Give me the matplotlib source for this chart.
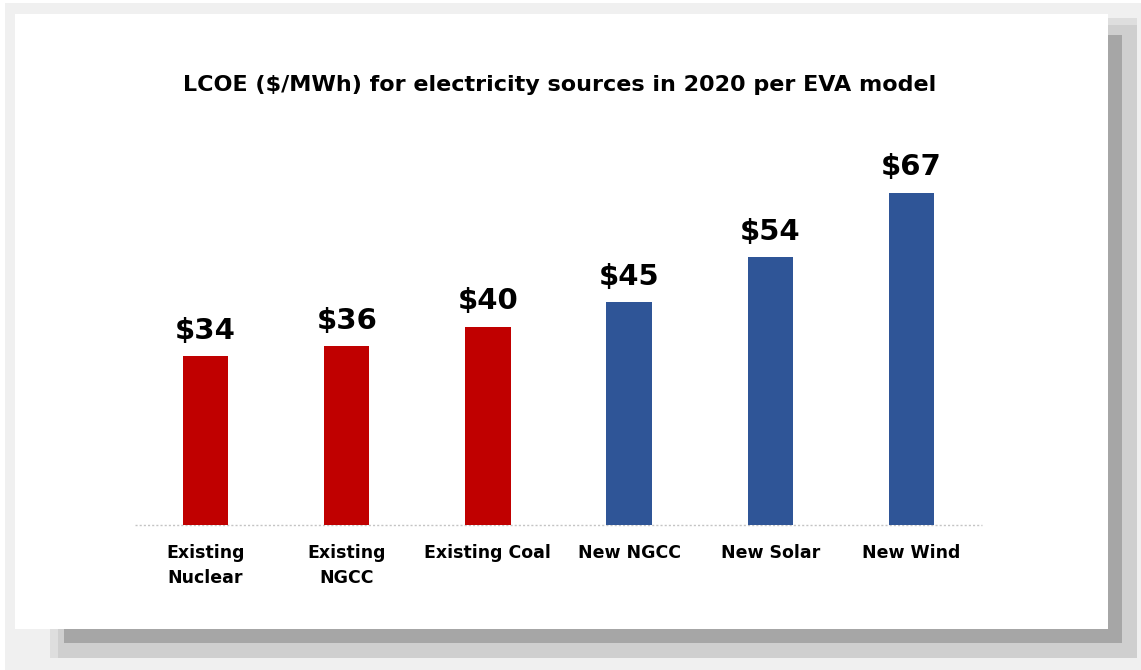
import matplotlib.pyplot as plt
from matplotlib.patches import Rectangle

# Datos del gráfico
categories = ["Existing\nNuclear", "Existing\nNGCC", "Existing Coal",
              "New NGCC", "New Solar", "New Wind"]
values = [34, 36, 40, 45, 54, 67]
groups = ["existing", "existing", "existing", "new", "new", "new"]
value_labels = ["$34", "$36", "$40", "$45", "$54", "$67"]

group_colors = {"existing": "#c00000", "new": "#2f5597"}

W, H = 1141, 670
plt.rcParams['font.family'] = ['DejaVu Sans']

fig = plt.figure(figsize=(W / 100, H / 100), dpi=100)
fig.patch.set_facecolor("white")


def box(x0, y0, x1, y1, color):
    # coordenadas en píxeles de la imagen (origen arriba a la izquierda)
    fig.patches.append(Rectangle((x0 / W, 1 - y1 / H), (x1 - x0) / W, (y1 - y0) / H,
                                 transform=fig.transFigure, facecolor=color,
                                 edgecolor="none", zorder=-10))


# Marco con sombra
box(5, 3, W, H, "#f0f0f0")
box(50, 18, 1137, 658, "#dedede")
box(58, 25, 1137, 658, "#cfcfcf")
box(64, 35, 1122, 643, "#a6a6a6")
box(15, 14, 1108, 629, "white")

ax = fig.add_axes([135 / W, 1 - 525 / H, 847 / W, 397 / H])
ax.set_facecolor("none")
ax.set_zorder(5)

x = list(range(len(categories)))
colors = [group_colors[g] for g in groups]
bars = ax.bar(x, values, width=0.32, color=colors, zorder=2)

for b, lab in zip(bars, value_labels):
    ax.annotate(lab, (b.get_x() + b.get_width() / 2, b.get_height()),
                xytext=(0, 8), textcoords="offset points",
                ha="center", va="bottom", fontsize=21, fontweight="bold")

ax.set_xlim(-0.5, 5.5)
ax.set_ylim(0, 80)
ax.axhline(0, color="#c4c4c4", linestyle=(0, (1.5, 1.5)), linewidth=1,
           zorder=1, clip_on=False)

ax.set_xticks(x)
ax.set_xticklabels(categories, fontsize=12.5, fontweight="bold", linespacing=1.45)
ax.tick_params(axis="x", length=0, pad=14)
ax.set_yticks([])
for s in ax.spines.values():
    s.set_visible(False)

fig.text(560 / W, 1 - 85 / H, "LCOE ($/MWh) for electricity sources in 2020 per EVA model",
         ha="center", va="center", fontsize=16, fontweight="bold", zorder=6)

fig.savefig("out.png", dpi=100)
